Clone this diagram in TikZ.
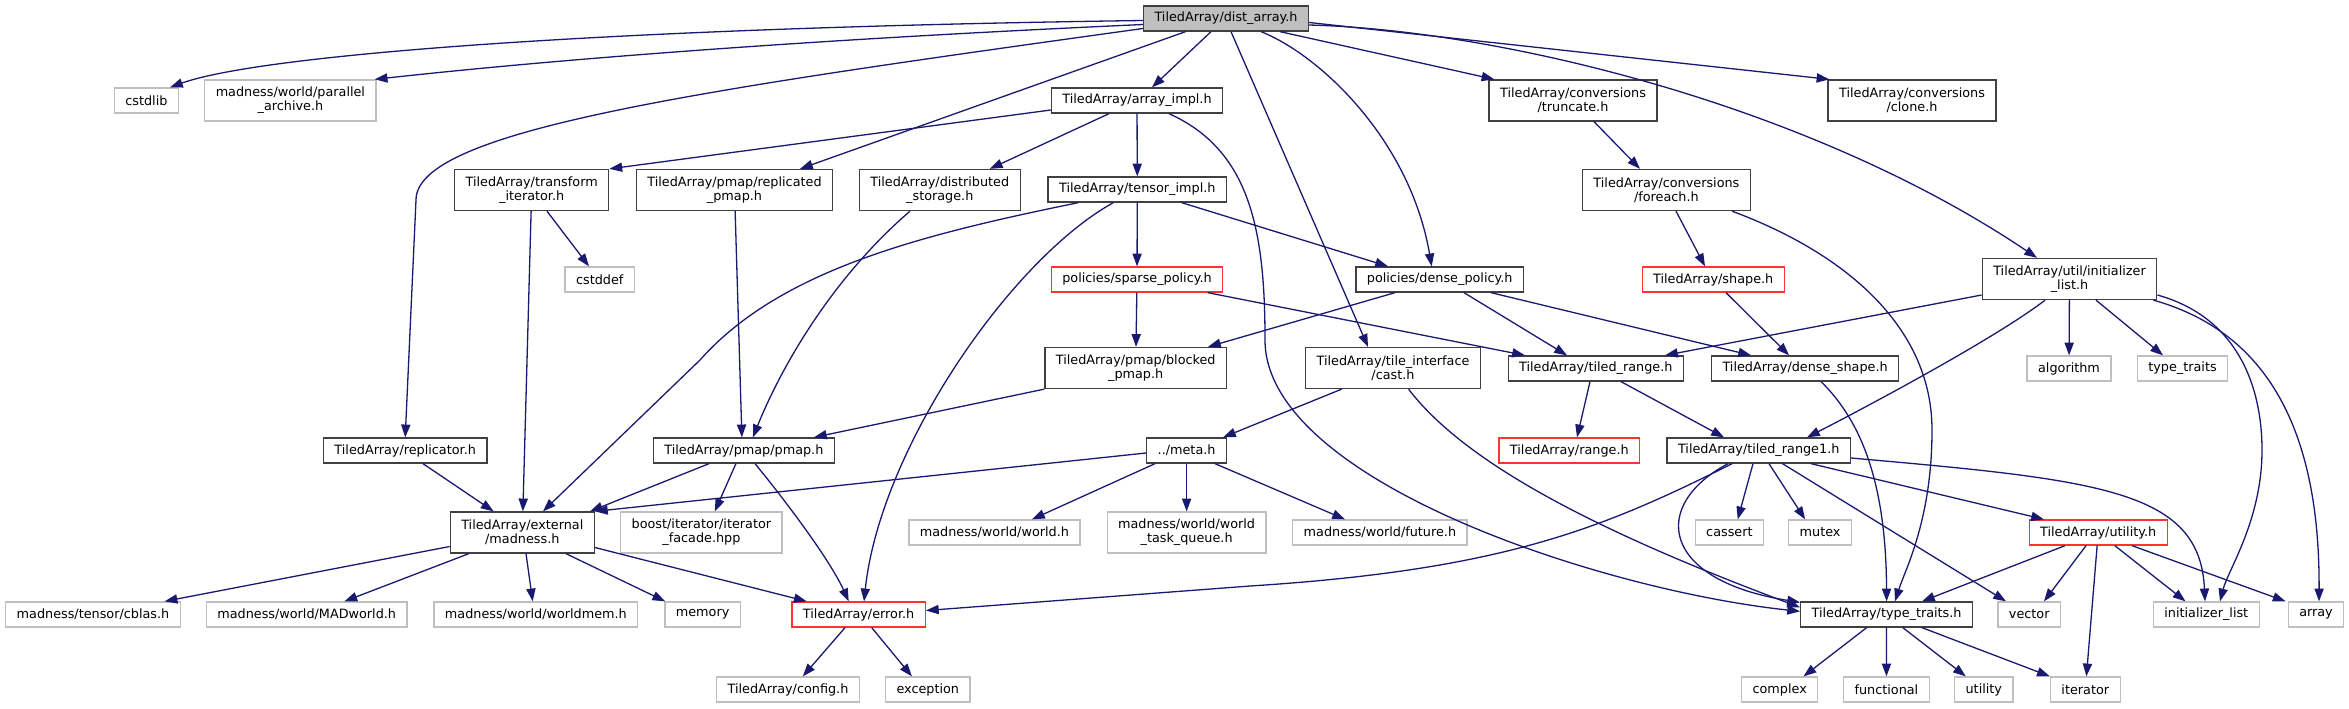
\documentclass[tikz,border=0pt]{standalone}
\usepackage{fontspec}
\setmainfont{DejaVu Sans}
\usepackage{tikz}
\usetikzlibrary{arrows.meta}
\definecolor{edgeblue}{RGB}{25, 25, 112}
\definecolor{boxgray}{RGB}{64, 64, 64}
\definecolor{extgray}{RGB}{191, 191, 191}
\definecolor{truncred}{RGB}{255, 50, 50}
\definecolor{rootgray}{RGB}{191, 191, 191}

\begin{document}
\begin{tikzpicture}[x=0.5pt, y=-0.5pt,
        box/.style={draw=boxgray, fill=white, line width=0.65pt, align=center,
                    font=\fontsize{6.4}{7}\selectfont, inner xsep=5.5pt, inner ysep=2pt,
                    minimum height=12.5pt},
        extbox/.style={box, draw=extgray},
        redbox/.style={box, draw=truncred},
        rootbox/.style={box, fill=rootgray},
        tall/.style={minimum height=20.5pt},
        arrow/.style={-{Triangle[length=6.4pt, width=4.6pt]}, draw=edgeblue, line width=0.65pt}
      ]
        \useasboundingbox (0,0) rectangle (2349,708);

        \node[rootbox] (root) at (1226,18.5) {TiledArray/dist\_array.h};

        \node[extbox] (cstdlib) at (146.4,100.5) {cstdlib};
        \node[extbox, tall] (parchive) at (290.4,100.5) {madness/world/parallel\\\_archive.h};
        \node[box] (arrayimpl) at (1137,100.5) {TiledArray/array\_impl.h};
        \node[box, tall] (truncate) at (1573,100.5) {TiledArray/conversions\\/truncate.h};
        \node[box, tall] (clone) at (1912,100.5) {TiledArray/conversions\\/clone.h};

        \node[box, tall] (transform) at (531.7,190) {TiledArray/transform\\\_iterator.h};
        \node[box, tall] (replpmap) at (734.5,190) {TiledArray/pmap/replicated\\\_pmap.h};
        \node[box, tall] (diststorage) at (939.8,190) {TiledArray/distributed\\\_storage.h};
        \node[box] (tensorimpl) at (1137.3,189.5) {TiledArray/tensor\_impl.h};
        \node[box, tall] (foreach) at (1666.4,190) {TiledArray/conversions\\/foreach.h};

        \node[extbox] (cstddef) at (599.8,279.5) {cstddef};
        \node[redbox] (sparse) at (1137,279.5) {policies/sparse\_policy.h};
        \node[box] (dense) at (1439.7,279.5) {policies/dense\_policy.h};
        \node[redbox] (shape) at (1713.2,279.5) {TiledArray/shape.h};
        \node[box, tall] (initlisth) at (2069.5,279) {TiledArray/util/initializer\\\_list.h};

        \node[box, tall] (blocked) at (1135.7,368) {TiledArray/pmap/blocked\\\_pmap.h};
        \node[box, tall] (cast) at (1393,368) {TiledArray/tile\_interface\\/cast.h};
        \node[box] (tiledrange) at (1595.8,368.5) {TiledArray/tiled\_range.h};
        \node[box] (denseshape) at (1805.1,368.5) {TiledArray/dense\_shape.h};
        \node[extbox] (algorithm) at (2069,368.5) {algorithm};
        \node[extbox] (typetraitsstd) at (2182.5,368.5) {type\_traits};

        \node[box] (replicator) at (405.2,450.5) {TiledArray/replicator.h};
        \node[box] (pmap) at (743.9,450.5) {TiledArray/pmap/pmap.h};
        \node[box] (meta) at (1186.6,450.5) {../meta.h};
        \node[redbox] (range) at (1569.3,450.5) {TiledArray/range.h};
        \node[box] (tiledrange1) at (1758.7,450.5) {TiledArray/tiled\_range1.h};

        \node[box, tall] (madness) at (522.3,532.5) {TiledArray/external\\/madness.h};
        \node[extbox, tall] (facade) at (701.4,532.5) {boost/iterator/iterator\\\_facade.hpp};
        \node[extbox] (world) at (994.4,532.5) {madness/world/world.h};
        \node[extbox, tall] (taskqueue) at (1186.6,532.5) {madness/world/world\\\_task\_queue.h};
        \node[extbox] (future) at (1379.9,532.5) {madness/world/future.h};
        \node[extbox] (cassert) at (1729.4,532.5) {cassert};
        \node[extbox] (mutex) at (1820.1,532.5) {mutex};
        \node[redbox] (utilityh) at (2098.2,532.5) {TiledArray/utility.h};

        \node[extbox] (cblas) at (93,614.5) {madness/tensor/cblas.h};
        \node[extbox] (madworld) at (306.7,614.5) {madness/world/MADworld.h};
        \node[extbox] (worldmem) at (535.9,614.5) {madness/world/worldmem.h};
        \node[extbox] (memory) at (702.6,614.5) {memory};
        \node[redbox] (error) at (858.6,614.5) {TiledArray/error.h};
        \node[box] (typetraits) at (1886.6,614.5) {TiledArray/type\_traits.h};
        \node[extbox] (vector) at (2029.2,614.5) {vector};
        \node[extbox] (initlist) at (2206.3,614.5) {initializer\_list};
        \node[extbox] (array) at (2316,614.5) {array};

        \node[extbox] (config) at (788,689.5) {TiledArray/config.h};
        \node[extbox] (exception) at (927.8,689.5) {exception};
        \node[extbox] (complex) at (1779.7,689.5) {complex};
        \node[extbox] (functional) at (1886.4,689.5) {functional};
        \node[extbox] (utility) at (1983.8,689.5) {utility};
        \node[extbox] (iterator) at (2085.3,689.5) {iterator};

        \draw[arrow] ([yshift=-1pt]root.west) .. controls (600,28) and (260,55) .. ([xshift=11.8pt]cstdlib.north);
        \draw[arrow] ([yshift=-3pt]root.west) .. controls (800,40) and (550,60) .. ([xshift=-1pt]parchive.north east);
        \draw[arrow] ([yshift=-5pt]root.west) .. controls (700,90) and (416,130) .. (416,200) -- (replicator.north);
        \draw[arrow] ([xshift=-20.25pt]root.south) -- ([xshift=32.75pt]replpmap.north);
        \draw[arrow] ([xshift=-7.5pt]root.south) -- ([xshift=7.5pt]arrayimpl.north);
        \draw[arrow] ([xshift=2.5pt]root.south) -- ([xshift=-12.5pt]cast.north);
        \draw[arrow] ([xshift=17.5pt]root.south) .. controls (1320,55) and (1410,140) .. ([xshift=-4pt]dense.north);
        \draw[arrow] ([xshift=27pt]root.south) -- ([xshift=3pt]truncate.north west);
        \draw[arrow] ([yshift=-2pt]root.east) -- ([xshift=1pt]clone.north west);
        \draw[arrow] ([yshift=-3.25pt]root.east) .. controls (1500,30) and (1810,105) .. ([xshift=-16.25pt]initlisth.north);

        \draw[arrow] ([yshift=-4.75pt]arrayimpl.west) -- (transform.north east);
        \draw[arrow] ([xshift=-14pt]arrayimpl.south) -- ([xshift=25pt]diststorage.north);
        \draw[arrow] (arrayimpl) -- (tensorimpl);
        \draw[arrow] ([xshift=16pt]arrayimpl.south) .. controls (1250,150) and (1265,230) .. (1265,340)
          .. controls (1265,480) and (1600,590) .. ([yshift=-5pt]typetraits.north west);

        \draw[arrow] ([xshift=7.65pt]transform.south) -- ([xshift=-5.4pt]cstddef.north);
        \draw[arrow] (transform) -- (madness);
        \draw[arrow] (replpmap) -- ([xshift=-1pt]pmap.north);
        \draw[arrow] ([xshift=-14.9pt]diststorage.south) .. controls (830,280) and (780,370) .. ([xshift=4.5pt]pmap.north);

        \draw[arrow] ([xshift=-29.5pt]tensorimpl.south) .. controls (920,235) and (780,270) .. (700,360) -- ([xshift=10.35pt]madness.north);
        \draw[arrow] ([xshift=-12pt]tensorimpl.south) .. controls (1010,260) and (880,450) .. ([xshift=2.7pt]error.north);
        \draw[arrow] (tensorimpl) -- (sparse);
        \draw[arrow] ([xshift=22.2pt]tensorimpl.south) -- ([xshift=-25.85pt]dense.north);

        \draw[arrow] (sparse) -- (blocked);
        \draw[arrow] ([xshift=35.35pt]sparse.south) -- ([xshift=-35.4pt]tiledrange.north);
        \draw[arrow] ([xshift=-22.35pt]dense.south) -- ([xshift=36.15pt]blocked.north);
        \draw[arrow] ([xshift=12.15pt]dense.south) -- ([xshift=-14.4pt]tiledrange.north);
        \draw[arrow] ([xshift=25.65pt]dense.south) -- ([xshift=-27pt]denseshape.north);

        \draw[arrow] ([xshift=10.5pt]truncate.south) -- ([xshift=-13.2pt]foreach.north);
        \draw[arrow] ([xshift=4.8pt]foreach.south) -- ([xshift=-4.1pt]shape.north);
        \draw[arrow] ([xshift=32.8pt]foreach.south) .. controls (1850,255) and (1932,330) .. (1932,430)
          .. controls (1932,520) and (1905,570) .. ([xshift=4.2pt]typetraits.north);
        \draw[arrow] ([xshift=6.4pt]shape.south) -- ([xshift=-8pt]denseshape.north);

        \draw[arrow] ([yshift=-8pt]initlisth.west) -- ([xshift=34.6pt]tiledrange.north);
        \draw[arrow] ([xshift=-12.25pt]initlisth.south) .. controls (2000,335) and (1880,400) .. ([xshift=24.15pt]tiledrange1.north);
        \draw[arrow] (initlisth) -- (algorithm);
        \draw[arrow] ([xshift=13.25pt]initlisth.south) -- ([xshift=-9.75pt]typetraitsstd.north);
        \draw[arrow] ([yshift=-8pt]initlisth.east) .. controls (2240,318) and (2262,390) .. (2262,450)
          .. controls (2262,520) and (2228,570) .. ([xshift=6.85pt]initlist.north);
        \draw[arrow] ([xshift=-2pt]initlisth.south east) .. controls (2260,330) and (2320,420) .. ([xshift=1.5pt]array.north);

        \draw[arrow] (blocked.south west) -- ([xshift=35pt]pmap.north);
        \draw[arrow] ([xshift=-25.7pt]cast.south) -- ([xshift=18.2pt]meta.north);
        \draw[arrow] ([xshift=7.8pt]cast.south) .. controls (1470,470) and (1620,540) .. ([yshift=-3pt]typetraits.north west);
        \draw[arrow] ([xshift=-2.9pt]tiledrange.south) -- ([xshift=3.85pt]range.north);
        \draw[arrow] ([xshift=12.6pt]tiledrange.south) -- ([xshift=-17.35pt]tiledrange1.north);
        \draw[arrow] ([xshift=8pt]denseshape.south) .. controls (1860,420) and (1886,480) .. (typetraits.north);
        \draw[arrow] ([xshift=8.9pt]replicator.south) -- ([xshift=-14.35pt]madness.north);

        \draw[arrow] ([xshift=-17.45pt]pmap.south) -- ([xshift=33.85pt]madness.north);
        \draw[arrow] ([xshift=-4pt]pmap.south) -- ([xshift=6.7pt]facade.north);
        \draw[arrow] ([xshift=5.55pt]pmap.south) .. controls (785,500) and (830,560) .. ([xshift=-4.95pt]error.north);

        \draw[arrow] ([yshift=-1.25pt]meta.west) -- (madness.north east);
        \draw[arrow] ([xshift=-15.8pt]meta.south) -- ([xshift=18.8pt]world.north);
        \draw[arrow] (meta) -- (taskqueue);
        \draw[arrow] ([xshift=14.2pt]meta.south) -- ([xshift=-17.45pt]future.north);

        \draw[arrow] ([xshift=-13.35pt]tiledrange1.south) .. controls (1600,530) and (1500,570) .. (1250,586) -- ([yshift=2pt]error.east);
        \draw[arrow] ([xshift=-15.35pt]tiledrange1.south) .. controls (1650,505) and (1660,580) .. ([yshift=-0.5pt]typetraits.north west);
        \draw[arrow] ([xshift=-2.85pt]tiledrange1.south) -- ([xshift=4.15pt]cassert.north);
        \draw[arrow] ([xshift=5.15pt]tiledrange1.south) -- ([xshift=-7.5pt]mutex.north);
        \draw[arrow] ([xshift=11.9pt]tiledrange1.south) -- ([xshift=-11.6pt]vector.north);
        \draw[arrow] ([xshift=26.15pt]tiledrange1.south) -- ([xshift=-27.1pt]utilityh.north);
        \draw[arrow] ([yshift=-3.75pt]tiledrange1.east) .. controls (2100,480) and (2200,490) .. ([xshift=-0.65pt]initlist.north);

        \draw[arrow] ([xshift=-16.6pt]utilityh.south) -- ([xshift=17.7pt]typetraits.north);
        \draw[arrow] ([xshift=-6.1pt]utilityh.south) -- ([xshift=7.4pt]vector.north);
        \draw[arrow] (utilityh) -- (iterator);
        \draw[arrow] ([xshift=8.3pt]utilityh.south) -- ([xshift=-10.4pt]initlist.north);
        \draw[arrow] ([xshift=16.9pt]utilityh.south) -- ([xshift=-1pt]array.north west);

        \draw[arrow] ([yshift=-7pt]madness.west) -- ([xshift=35.8pt]cblas.north);
        \draw[arrow] ([xshift=-26.75pt]madness.south) -- ([xshift=18.85pt]madworld.north);
        \draw[arrow] ([xshift=1.85pt]madness.south) -- ([xshift=-1.6pt]worldmem.north);
        \draw[arrow] ([xshift=21.85pt]madness.south) -- ([xshift=0.5pt]memory.north west);
        \draw[arrow] ([yshift=-7.5pt]madness.east) -- ([xshift=-25.95pt]error.north);

        \draw[arrow] ([xshift=-6.8pt]error.south) -- ([xshift=7.4pt]config.north);
        \draw[arrow] ([xshift=6.55pt]error.south) -- ([xshift=-7.95pt]exception.north);

        \draw[arrow] ([xshift=-10pt]typetraits.south) -- ([xshift=11.9pt]complex.north);
        \draw[arrow] (typetraits) -- (functional);
        \draw[arrow] ([xshift=8.1pt]typetraits.south) -- ([xshift=-9pt]utility.north);
        \draw[arrow] ([xshift=17.7pt]typetraits.south) -- (iterator.north west);
      \end{tikzpicture}
\end{document}
